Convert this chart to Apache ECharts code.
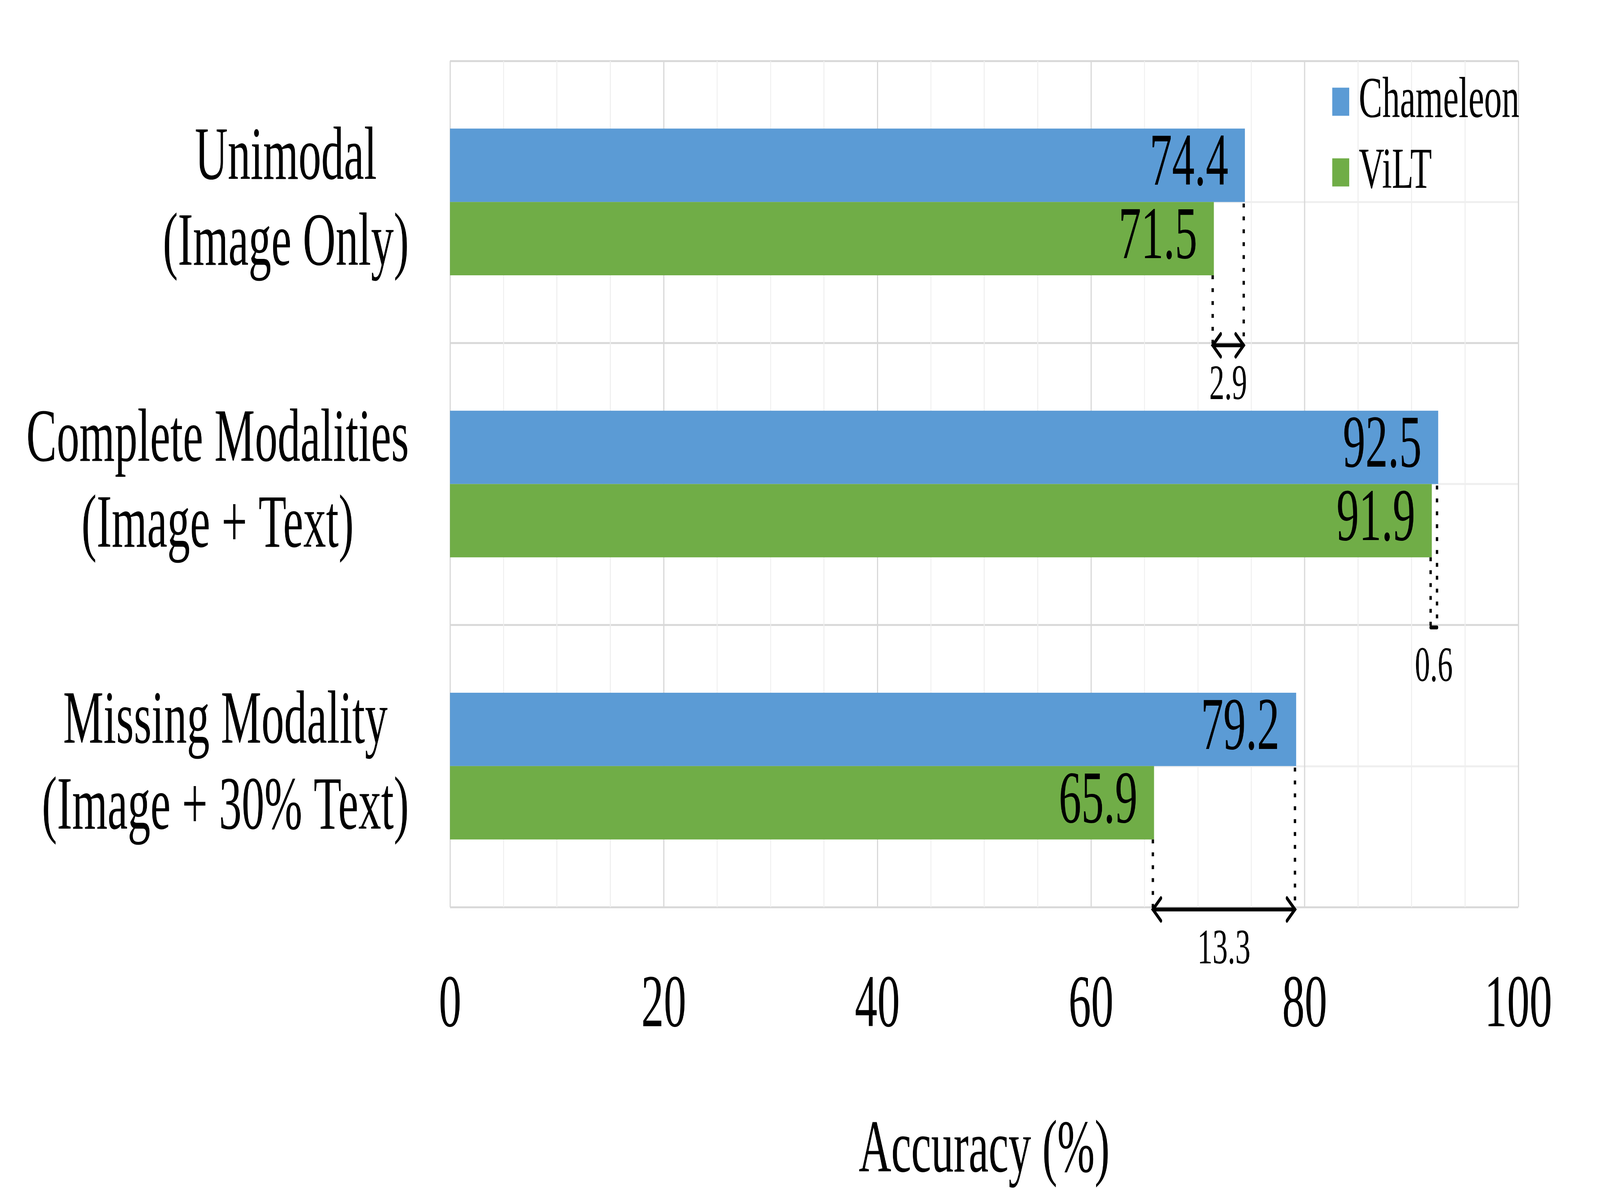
<!DOCTYPE html>
<html>
<head>
<meta charset="utf-8">
<script src="https://cdn.jsdelivr.net/npm/echarts@6/dist/echarts.min.js"></script>
<style>
  html, body { margin: 0; padding: 0; background: #ffffff; overflow: hidden; }
  #chart { width: 6758px; height: 3050px; transform-origin: 0 0; }
</style>
</head>
<body>
<div id="chart"></div>
<script>
// ---- data ----
const categories = ['Unimodal\n(Image Only)', 'Complete Modalities\n(Image + Text)', 'Missing Modality\n(Image + 30% Text)'];
const seriesNames = ['Chameleon', 'ViLT'];
const chameleon = [74.4, 92.5, 79.2];
const vilt = [71.5, 91.9, 65.9];
const xTicks = [0, 20, 40, 60, 80, 100];
const xAxisName = 'Accuracy (%)';

// ---- style ----
const W = 6758, H = 3050;
const FONT = "'Liberation Serif', 'Times New Roman', serif";
const BLUE = '#5B9BD5';
const GREEN = '#70AD47';
const GAP = 0.48;            // barCategoryGap fraction
const MAJOR = '#d9d9d9';
const MINOR = '#efefef';

// fit the fixed-size drawing into the actual window if it is smaller
const el = document.getElementById('chart');
const sx = window.innerWidth / W, sy = window.innerHeight / H;
if (sx < 0.999 || sy < 0.999) {
  el.style.transform = 'scale(' + Math.min(sx, 1) + ',' + Math.min(sy, 1) + ')';
}

const chart = echarts.init(el, null, { renderer: 'canvas', width: W, height: H });

function renderAnno(params, api) {
  const i = api.value(2);
  const vi = api.value(0);
  const ch = api.value(1);
  const bandUnits = 2;
  const barUnits = bandUnits * (1 - GAP) / 2;
  const center = i * bandUnits + bandUnits / 2;
  const greenBottom = center + barUnits;
  const blueBottom = center;
  const boundary = (i + 1) * bandUnits;
  const g0 = api.coord([vi, greenBottom]);
  const b0 = api.coord([ch, blueBottom]);
  const yb = api.coord([0, boundary])[1] + 6;
  const xg = g0[0] - 5;
  const xb = b0[0] - 5;
  const dot = { stroke: '#000', lineWidth: 10, lineDash: [10, 23], lineCap: 'butt' };
  const solid = { stroke: '#000', lineWidth: 10, lineCap: 'round', lineJoin: 'miter', fill: null };
  const children = [
    { type: 'line', shape: { x1: xg, y1: g0[1], x2: xg, y2: yb }, style: dot },
    { type: 'line', shape: { x1: xb, y1: b0[1] + 4, x2: xb, y2: yb }, style: dot },
    { type: 'line', shape: { x1: xg, y1: yb, x2: xb, y2: yb }, style: solid }
  ];
  const w = xb - xg;
  if (w > 70) {
    const d = 34, h = 29;
    children.push({ type: 'polyline', shape: { points: [[xg + d, yb - h], [xg, yb], [xg + d, yb + h]] }, style: solid });
    children.push({ type: 'polyline', shape: { points: [[xb - d, yb - h], [xb, yb], [xb - d, yb + h]] }, style: solid });
  }
  children.push({
    type: 'text',
    style: {
      x: (xg + xb) / 2, y: yb + 104,
      text: (ch - vi).toFixed(1),
      font: '128px ' + FONT,
      fill: '#000', align: 'center', verticalAlign: 'middle'
    }
  });
  return { type: 'group', children: children };
}

const option = {
  backgroundColor: '#ffffff',
  animation: false,
  textStyle: { fontFamily: FONT, color: '#000' },
  grid: { left: 1901, right: 345, top: 156, bottom: 705 },
  legend: {
    data: seriesNames,
    orient: 'vertical',
    left: 5627, top: 186,
    itemWidth: 72, itemHeight: 72, itemGap: 32,
    icon: 'rect',
    padding: 0,
    textStyle: { fontFamily: FONT, fontSize: 149, color: '#000', padding: [0, 0, 0, 35] }
  },
  xAxis: {
    type: 'value', min: xTicks[0], max: xTicks[xTicks.length - 1], interval: xTicks[1] - xTicks[0],
    axisLine: { show: false }, axisTick: { show: false },
    axisLabel: { fontFamily: FONT, fontSize: 190, color: '#000', margin: 160 },
    splitLine: { show: true, lineStyle: { color: MAJOR, width: 5 } },
    minorTick: { show: false, splitNumber: 4 },
    minorSplitLine: { show: true, lineStyle: { color: MINOR, width: 4 } },
    name: xAxisName, nameLocation: 'middle', nameGap: 532,
    nameTextStyle: { fontFamily: FONT, fontSize: 190, color: '#000' }
  },
  yAxis: [
    {
      type: 'category', data: categories, inverse: true,
      axisLine: { show: false }, axisTick: { show: false }, splitLine: { show: false },
      axisLabel: {
        margin: 174, align: 'right',
        formatter: function (v) { return v.split('\n').map(s => '{a|' + s + '}').join('\n'); },
        rich: { a: { fontFamily: FONT, fontSize: 192, lineHeight: 220, color: '#000', align: 'center' } }
      }
    },
    {
      type: 'value', min: 0, max: categories.length * 2, interval: 1, inverse: true,
      axisLine: { show: false }, axisTick: { show: false }, axisLabel: { show: false },
      splitLine: { show: true, lineStyle: { color: [MAJOR, MINOR], width: 5 } }
    }
  ],
  series: [
    {
      name: seriesNames[0], type: 'bar', yAxisIndex: 0, data: chameleon,
      barGap: '0%', barCategoryGap: (GAP * 100) + '%',
      itemStyle: { color: BLUE },
      label: { show: true, position: 'insideRight', distance: 70, fontFamily: FONT, fontSize: 190, color: '#000' }
    },
    {
      name: seriesNames[1], type: 'bar', yAxisIndex: 0, data: vilt,
      barGap: '0%', barCategoryGap: (GAP * 100) + '%',
      itemStyle: { color: GREEN },
      label: { show: true, position: 'insideRight', distance: 70, fontFamily: FONT, fontSize: 190, color: '#000' }
    },
    {
      type: 'custom', yAxisIndex: 1, xAxisIndex: 0, z: 10,
      renderItem: renderAnno,
      encode: { x: 0, y: 2 },
      data: categories.map((c, i) => [vilt[i], chameleon[i], i]),
      silent: true
    }
  ]
};
chart.setOption(option);
</script>
</body>
</html>
